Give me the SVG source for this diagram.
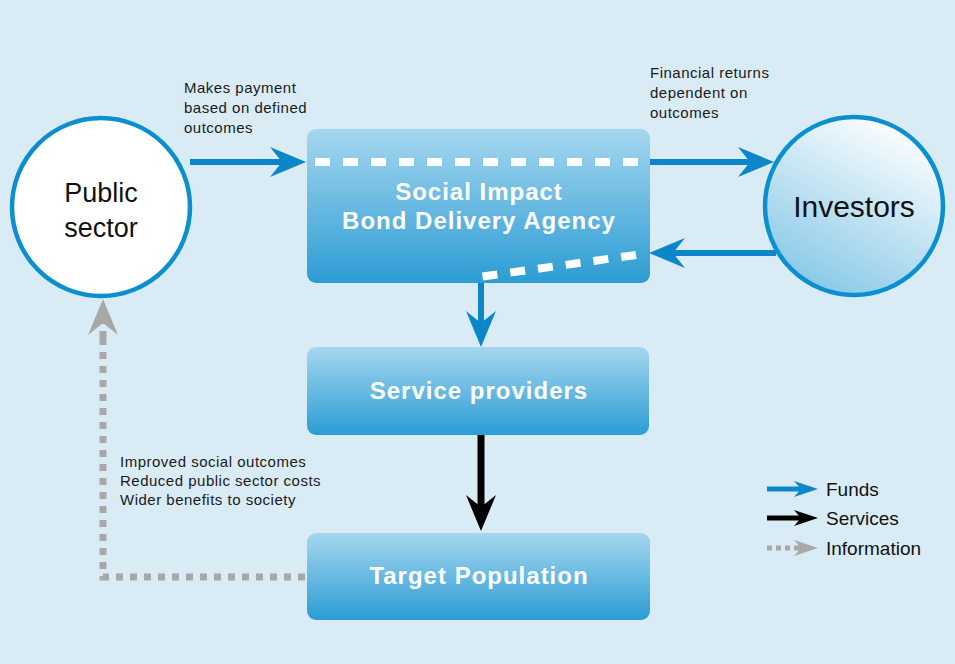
<svg xmlns="http://www.w3.org/2000/svg" width="955" height="664" viewBox="0 0 955 664">
<style>
.bg{fill:#d9ecf6}
.box{fill:url(#boxGrad)}
.boxText{font-family:"Liberation Sans",Arial,sans-serif;font-weight:bold;font-size:24px;fill:#ffffff;text-anchor:middle;letter-spacing:1px}
.circText{font-family:"Liberation Sans",Arial,sans-serif;fill:#111111;text-anchor:middle}
.note{font-family:"Liberation Sans",Arial,sans-serif;font-size:15px;fill:#1a1a1a;letter-spacing:0.5px}
.legendText{font-family:"Liberation Sans",Arial,sans-serif;font-size:19px;fill:#111111}
.funds{stroke:#0b87c9;stroke-width:6;fill:none}
.services{stroke:#000000;stroke-width:7;fill:none}
.info{stroke:#a8a8a8;stroke-width:7;fill:none;stroke-dasharray:7 7}
.whiteDash{stroke:#ffffff;stroke-width:8;fill:none;stroke-dasharray:15 13}
</style>
<defs>
<linearGradient id="boxGrad" x1="0" y1="0" x2="0" y2="1">
<stop offset="0" stop-color="#a5d7ef"/>
<stop offset="1" stop-color="#2c9cd4"/>
</linearGradient>
<linearGradient id="invGrad" x1="0.8" y1="0.05" x2="0.3" y2="1">
<stop offset="0" stop-color="#ffffff"/>
<stop offset="1" stop-color="#86c8e7"/>
</linearGradient>
<marker id="arrBlue" markerUnits="userSpaceOnUse" markerWidth="36" markerHeight="32" viewBox="0 0 36 32" refX="12" refY="16" orient="auto">
<path d="M0,1 L36,16 L0,31 L12,16 Z" fill="#0b87c9"/>
</marker>
<marker id="arrBlack" markerUnits="userSpaceOnUse" markerWidth="36" markerHeight="32" viewBox="0 0 36 32" refX="12" refY="16" orient="auto">
<path d="M0,1 L36,16 L0,31 L12,16 Z" fill="#000000"/>
</marker>
<marker id="arrGrey" markerUnits="userSpaceOnUse" markerWidth="36" markerHeight="32" viewBox="0 0 36 32" refX="12" refY="16" orient="auto">
<path d="M0,1 L36,16 L0,31 L12,16 Z" fill="#a8a8a8"/>
</marker>
<marker id="legBlue" markerUnits="userSpaceOnUse" markerWidth="24" markerHeight="18" viewBox="0 0 24 18" refX="7" refY="9" orient="auto">
<path d="M0,1 L24,9 L0,17 L7,9 Z" fill="#0b87c9"/>
</marker>
<marker id="legBlack" markerUnits="userSpaceOnUse" markerWidth="24" markerHeight="18" viewBox="0 0 24 18" refX="7" refY="9" orient="auto">
<path d="M0,1 L24,9 L0,17 L7,9 Z" fill="#000000"/>
</marker>
<marker id="legGrey" markerUnits="userSpaceOnUse" markerWidth="24" markerHeight="18" viewBox="0 0 24 18" refX="7" refY="9" orient="auto">
<path d="M0,1 L24,9 L0,17 L7,9 Z" fill="#a8a8a8"/>
</marker>
</defs>
<rect class="bg" x="0" y="0" width="955" height="664"/>

<g id="connectors">
<line class="funds" x1="190" y1="162" x2="282" y2="162" marker-end="url(#arrBlue)"/>
<line class="funds" x1="648" y1="162" x2="750" y2="162" marker-end="url(#arrBlue)"/>
<line class="funds" x1="776" y1="253" x2="673" y2="253" marker-end="url(#arrBlue)"/>
<line class="funds" x1="481" y1="282" x2="481" y2="323" marker-end="url(#arrBlue)"/>
<line class="services" x1="481" y1="435" x2="481" y2="507" marker-end="url(#arrBlack)"/>
<path class="info" d="M305,577 L103,577 L103,335"/>
<line class="info" x1="103" y1="338" x2="103" y2="323" stroke-dasharray="none" marker-end="url(#arrGrey)"/>
</g>

<g id="public-sector">
<circle cx="101" cy="207" r="89" fill="#ffffff" stroke="#0b8fd0" stroke-width="4.5"/>
<text class="circText" x="101" y="202" font-size="27">Public</text>
<text class="circText" x="101" y="237" font-size="27">sector</text>
</g>

<g id="investors">
<circle cx="854" cy="206" r="89" fill="url(#invGrad)" stroke="#0b8fd0" stroke-width="4.5"/>
<text class="circText" x="854" y="217" font-size="30">Investors</text>
</g>

<g id="sib-delivery-agency">
<rect class="box" x="307" y="129" width="343" height="154" rx="9"/>
<line class="whiteDash" x1="315" y1="162" x2="648" y2="162"/>
<line class="whiteDash" x1="636" y1="255" x2="479" y2="277"/>
<text class="boxText" x="479" y="200">Social Impact</text>
<text class="boxText" x="479" y="229">Bond Delivery Agency</text>
</g>

<g id="service-providers">
<rect class="box" x="307" y="347" width="342" height="88" rx="9"/>
<text class="boxText" x="479" y="399">Service providers</text>
</g>

<g id="target-population">
<rect class="box" x="307" y="533" width="343" height="87" rx="9"/>
<text class="boxText" x="479" y="584">Target Population</text>
</g>

<g id="label-payment">
<text class="note" x="184" y="93">Makes payment</text>
<text class="note" x="184" y="113">based on defined</text>
<text class="note" x="184" y="133">outcomes</text>
</g>

<g id="label-returns">
<text class="note" x="650" y="78">Financial returns</text>
<text class="note" x="650" y="98">dependent on</text>
<text class="note" x="650" y="118">outcomes</text>
</g>

<g id="label-outcomes">
<text class="note" x="120" y="467">Improved social outcomes</text>
<text class="note" x="120" y="486">Reduced public sector costs</text>
<text class="note" x="120" y="505">Wider benefits to society</text>
</g>

<g id="legend">
<line x1="767" y1="489" x2="801" y2="489" stroke="#0b87c9" stroke-width="5" marker-end="url(#legBlue)"/>
<text class="legendText" x="826" y="496">Funds</text>
<line x1="767" y1="518" x2="801" y2="518" stroke="#000000" stroke-width="5" marker-end="url(#legBlack)"/>
<text class="legendText" x="826" y="525">Services</text>
<line x1="767" y1="548" x2="797" y2="548" stroke="#a8a8a8" stroke-width="5" stroke-dasharray="5 4"/>
<line x1="797" y1="548" x2="801" y2="548" stroke="#a8a8a8" stroke-width="5" marker-end="url(#legGrey)"/>
<text class="legendText" x="826" y="555">Information</text>
</g>
</svg>
